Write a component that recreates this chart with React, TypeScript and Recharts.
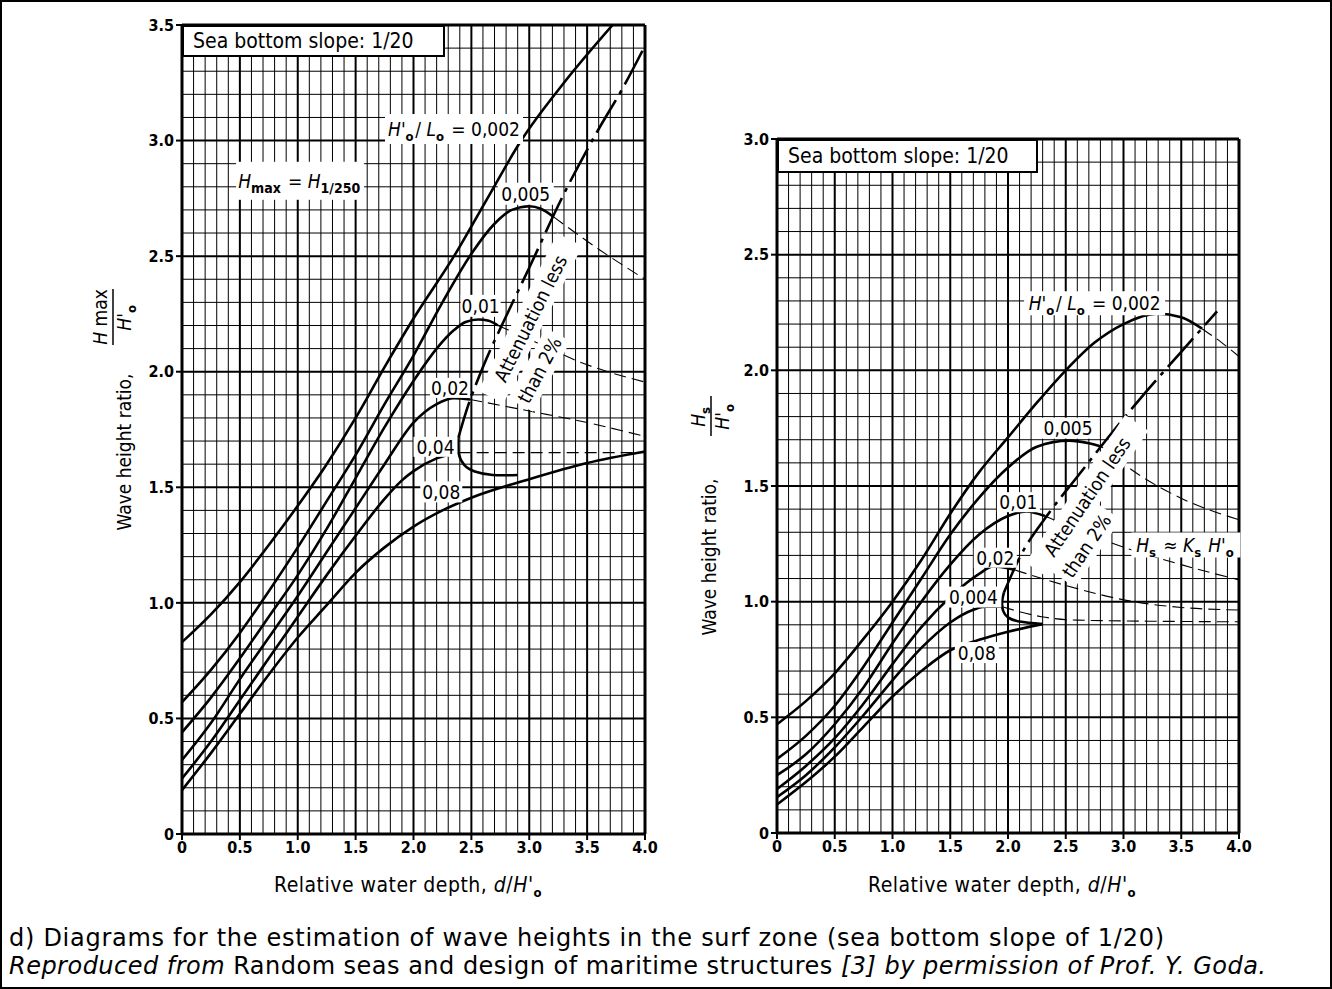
import React from 'react';
import {
  LineChart,
  Line,
  XAxis,
  YAxis,
  ReferenceDot,
  ReferenceLine,
} from 'recharts';

const FONT = '"DejaVu Sans Condensed", "Liberation Sans Narrow", "DejaVu Sans", sans-serif';
const CAPTION_FONT = '"DejaVu Sans", "Noto Sans", sans-serif';

// axis ticks
const X_TICKS = [0, 0.5, 1, 1.5, 2, 2.5, 3, 3.5, 4];
const Y_TICKS_MAX = [0, 0.5, 1, 1.5, 2, 2.5, 3, 3.5];
const Y_TICKS_S = [0, 0.5, 1, 1.5, 2, 2.5, 3];

// left diagram: Hmax / H'o against d / H'o, one list per wave steepness H'o/Lo
const max002 = [[0, 0.83], [0.25, 0.95], [0.5, 1.09], [0.75, 1.25], [1.0, 1.42], [1.25, 1.6], [1.5, 1.8], [1.75, 2.02], [2.0, 2.23], [2.35, 2.5], [2.65, 2.76], [2.93, 3.0], [3.3, 3.25], [3.72, 3.5]];
const max005 = [[0, 0.57], [0.25, 0.71], [0.5, 0.87], [0.75, 1.05], [1.0, 1.24], [1.25, 1.44], [1.5, 1.64], [1.75, 1.86], [2.0, 2.07], [2.25, 2.3], [2.5, 2.51], [2.7, 2.64], [2.85, 2.7], [3.0, 2.716], [3.1, 2.705], [3.21, 2.67]];
const max005Tail = [[3.21, 2.67], [3.6, 2.53], [4.0, 2.4]];
const max01 = [[0, 0.44], [0.25, 0.59], [0.5, 0.76], [0.75, 0.94], [1.0, 1.12], [1.25, 1.32], [1.5, 1.54], [1.75, 1.76], [2.0, 1.96], [2.2, 2.1], [2.35, 2.18], [2.45, 2.215], [2.56, 2.226], [2.65, 2.22], [2.73, 2.2]];
const max01Tail = [[2.73, 2.2], [3.0, 2.14], [3.5, 2.03], [4.0, 1.955]];
const max02 = [[0, 0.32], [0.25, 0.48], [0.5, 0.67], [0.75, 0.85], [1.0, 1.03], [1.25, 1.22], [1.5, 1.41], [1.75, 1.6], [2.0, 1.78], [2.2, 1.86], [2.35, 1.885], [2.49, 1.88]];
const max02Tail = [[2.49, 1.88], [3.0, 1.83], [3.5, 1.78], [4.0, 1.72]];
const max04 = [[0, 0.24], [0.25, 0.4], [0.5, 0.58], [0.75, 0.76], [1.0, 0.94], [1.25, 1.12], [1.5, 1.29], [1.75, 1.45], [1.9, 1.53], [2.0, 1.57], [2.2, 1.625], [2.39, 1.65]];
const max04Tail = [[2.39, 1.65], [4.0, 1.65]];
const max08 = [[0, 0.19], [0.25, 0.35], [0.5, 0.52], [0.75, 0.69], [1.0, 0.85], [1.25, 0.99], [1.5, 1.13], [1.75, 1.24], [2.0, 1.33], [2.25, 1.4], [2.5, 1.455], [3.0, 1.535], [3.5, 1.605], [4.0, 1.655]];
const maxLimit = [[2.386, 1.712], [2.45, 1.82], [2.6, 2.02], [2.8, 2.24], [3.0, 2.45], [3.3, 2.77], [3.6, 3.05], [3.8, 3.22], [4.0, 3.41]];
const maxHook = [[2.386, 1.712], [2.39, 1.647], [2.438, 1.597], [2.53, 1.568], [2.685, 1.553], [2.9, 1.553]];

// right diagram: Hs / H'o against d / H'o
const sig002 = [[0, 0.47], [0.25, 0.57], [0.5, 0.69], [0.75, 0.84], [1.0, 1.0], [1.25, 1.18], [1.5, 1.38], [1.75, 1.56], [2.0, 1.71], [2.25, 1.86], [2.5, 2.0], [2.75, 2.12], [3.0, 2.2], [3.29, 2.245], [3.5, 2.23], [3.68, 2.18]];
const sig002Tail = [[3.68, 2.18], [3.85, 2.12], [4.0, 2.06]];
const sig005 = [[0, 0.32], [0.25, 0.42], [0.5, 0.55], [0.75, 0.72], [1.0, 0.91], [1.25, 1.1], [1.5, 1.29], [1.75, 1.45], [2.0, 1.58], [2.25, 1.67], [2.53, 1.696], [2.7, 1.685], [2.81, 1.67]];
const sig005Tail = [[2.81, 1.67], [3.13, 1.55], [3.53, 1.44], [4.0, 1.354]];
const sig01 = [[0, 0.25], [0.25, 0.34], [0.5, 0.47], [0.75, 0.63], [1.0, 0.82], [1.25, 1.0], [1.5, 1.16], [1.75, 1.29], [2.0, 1.37], [2.16, 1.39], [2.32, 1.37]];
const sig01Tail = [[2.32, 1.37], [2.86, 1.26], [3.5, 1.16], [4.0, 1.094]];
const sig02 = [[0, 0.19], [0.25, 0.29], [0.5, 0.41], [0.75, 0.56], [1.0, 0.73], [1.25, 0.89], [1.5, 1.02], [1.75, 1.12], [1.87, 1.152], [2.0, 1.145], [2.06, 1.137]];
const sig02Tail = [[2.06, 1.137], [2.5, 1.07], [3.09, 1.0], [3.5, 0.975], [4.0, 0.964]];
const sig04 = [[0, 0.155], [0.25, 0.25], [0.5, 0.37], [0.75, 0.51], [1.0, 0.66], [1.25, 0.8], [1.5, 0.91], [1.7, 0.965], [1.8, 0.978], [1.95, 0.978]];
const sig04Tail = [[1.95, 0.978], [2.29, 0.935], [2.6, 0.92], [4.0, 0.913]];
const sig08 = [[0, 0.123], [0.25, 0.22], [0.5, 0.33], [0.75, 0.46], [1.0, 0.59], [1.25, 0.7], [1.5, 0.79], [1.75, 0.835], [2.0, 0.87], [2.3, 0.903]];
const sigLimit = [[1.965, 1.04], [2.1, 1.19], [2.35, 1.38], [2.6, 1.54], [2.9, 1.73], [3.2, 1.91], [3.5, 2.08], [3.81, 2.255]];
const sigHook = [[1.965, 1.04], [1.949, 1.0], [1.958, 0.96], [2.0, 0.932], [2.1, 0.914], [2.3, 0.903]];

const toPts = (a: number[][]) => a.map(([x, y]) => ({ x, y }));
const tenths = (max: number) => Array.from({ length: Math.round(max * 10) + 1 }, (_, i) => i / 10);

const solid = (a: number[][], key: string, type: any = 'monotone') => (
  <Line key={key} data={toPts(a)} dataKey="y" type={type} stroke="#000" strokeWidth={2.6}
    dot={false} activeDot={false} isAnimationActive={false} />
);
const dashed = (a: number[][], key: string) => (
  <Line key={key} data={toPts(a)} dataKey="y" type="monotone" stroke="#000" strokeWidth={1.1}
    strokeDasharray="12 6" dot={false} activeDot={false} isAnimationActive={false} />
);
const dashDot = (a: number[][], key: string) => (
  <Line key={key} data={toPts(a)} dataKey="y" type="monotone" stroke="#000" strokeWidth={2.6}
    strokeDasharray="38 7 4 7" dot={false} activeDot={false} isAnimationActive={false} />
);

const Sub = ({ children, size = 13 }: any) => (
  <>
    <tspan dy={5} fontSize={size} fontWeight={700}>{children}</tspan>
    <tspan dy={-5}>{'\u200a'}</tspan>
  </>
);

// white-backed label on a curve, centred on a data point
const tag = (key: string, x: number, y: number, w: number, h: number, content: React.ReactNode) => (
  <ReferenceDot key={key} x={x} y={y} r={0} ifOverflow="visible"
    shape={(p: any) => (
      <g>
        <rect x={p.cx - w / 2} y={p.cy - h / 2} width={w} height={h} fill="#fff" />
        <text x={p.cx} y={p.cy + 7} textAnchor="middle" fontFamily={FONT} fontSize={19} fill="#000">
          {content}
        </text>
      </g>
    )} />
);

const slanted = (key: string, x: number, y: number, angle: number, w: number, text: string) => (
  <ReferenceDot key={key} x={x} y={y} r={0} ifOverflow="visible"
    shape={(p: any) => (
      <g transform={`translate(${p.cx},${p.cy}) rotate(${angle})`}>
        <rect x={-w / 2} y={-14} width={w} height={28} fill="#fff" />
        <text x={0} y={7} textAnchor="middle" fontFamily={FONT} fontSize={19} fill="#000">{text}</text>
      </g>
    )} />
);

const steepness = (
  <>
    <tspan fontStyle="italic">H'</tspan><Sub>o</Sub>
    <tspan>/ </tspan><tspan fontStyle="italic">L</tspan><Sub>o</Sub>
    <tspan> = 0,002</tspan>
  </>
);

const fmt = (v: number) => (v === 0 ? '0' : v.toFixed(1));

const axisProps = {
  tick: { fill: '#000', fontSize: 16, fontWeight: 700, fontFamily: FONT },
  tickLine: { stroke: '#000', strokeWidth: 2 },
  axisLine: { stroke: '#000', strokeWidth: 3 },
  tickFormatter: fmt,
  allowDataOverflow: true,
};

// 0.1 grid, every fifth line heavier, plus the heavy frame on top and right
const grids = (yMax: number) => [
  ...tenths(4).map((v, i) => (
    <ReferenceLine key={`gx${i}`} x={v} stroke="#000" strokeWidth={i % 5 === 0 ? 2 : 1} />
  )),
  ...tenths(yMax).map((v, i) => (
    <ReferenceLine key={`gy${i}`} y={v} stroke="#000" strokeWidth={i % 5 === 0 ? 2 : 1} />
  )),
  <ReferenceLine key="rtop" y={yMax} stroke="#000" strokeWidth={3} />,
  <ReferenceLine key="rright" x={4} stroke="#000" strokeWidth={3} />,
];

const SlopeBox = ({ left, top, width, height }: any) => (
  <div style={{
    position: 'absolute', left, top, width, height, boxSizing: 'border-box',
    border: '2px solid #000', background: '#fff', fontFamily: FONT, fontSize: 21,
    lineHeight: `${height - 4}px`, paddingLeft: 9, color: '#000', whiteSpace: 'nowrap',
  }}>
    Sea bottom slope: 1/20
  </div>
);

const depthTitle = (x: number) => (
  <text x={x} y={892} fontSize={21} textLength={270} lengthAdjust="spacing">
    Relative water depth, <tspan fontStyle="italic">d</tspan>/<tspan fontStyle="italic">H'</tspan><Sub>o</Sub>
  </text>
);

export default function App() {
  return (
    <div style={{ position: 'absolute', left: 0, top: 0, width: 1332, height: 989, background: '#fff', boxSizing: 'border-box', border: '2px solid #000', overflow: 'hidden' }}>
      <div style={{ position: 'absolute', left: -2, top: -2 }}>
        <LineChart width={660} height={870} margin={{ top: 25, right: 15, bottom: 6, left: 142 }}>
          <XAxis type="number" dataKey="x" domain={[0, 4]} ticks={X_TICKS} height={30} {...axisProps} />
          <YAxis type="number" domain={[0, 3.5]} ticks={Y_TICKS_MAX} width={40} {...axisProps} />
          {grids(3.5)}
          {dashed(max005Tail, 't005')}
          {dashed(max01Tail, 't01')}
          {dashed(max02Tail, 't02')}
          {dashed(max04Tail, 't04')}
          {solid(max002, 'c002')}
          {solid(max005, 'c005')}
          {solid(max01, 'c01')}
          {solid(max02, 'c02')}
          {solid(max04, 'c04')}
          {solid(max08, 'c08')}
          {dashDot(maxLimit, 'lim')}
          {solid(maxHook, 'hook', 'natural')}
          {tag('l002', 2.35, 3.05, 138, 30, steepness)}
          {tag('lmax', 1.02, 2.826, 128, 38, (
            <>
              <tspan fontStyle="italic">H</tspan><Sub size={14}>max</Sub>
              <tspan> = </tspan><tspan fontStyle="italic">H</tspan><Sub size={14}>1/250</Sub>
            </>
          ))}
          {tag('l005', 2.97, 2.77, 56, 22, '0,005')}
          {tag('l01', 2.58, 2.285, 40, 22, '0,01')}
          {tag('l02', 2.315, 1.93, 40, 20, '0,02')}
          {tag('l04', 2.19, 1.675, 44, 20, '0,04')}
          {tag('l08', 2.24, 1.48, 42, 21, '0,08')}
          {slanted('a1', 3.01, 2.231, -63.4, 176, 'Attenuation less')}
          {slanted('a2', 3.087, 2.008, -62, 80, 'than 2%')}
        </LineChart>
      </div>

      <div style={{ position: 'absolute', left: 658, top: -2 }}>
        <LineChart width={594} height={869} margin={{ top: 139, right: 15, bottom: 6, left: 77 }}>
          <XAxis type="number" dataKey="x" domain={[0, 4]} ticks={X_TICKS} height={30} {...axisProps} />
          <YAxis type="number" domain={[0, 3]} ticks={Y_TICKS_S} width={40} {...axisProps} />
          {grids(3)}
          {dashed(sig002Tail, 't002')}
          {dashed(sig005Tail, 't005')}
          {dashed(sig01Tail, 't01')}
          {dashed(sig02Tail, 't02')}
          {dashed(sig04Tail, 't04')}
          {solid(sig002, 'c002')}
          {solid(sig005, 'c005')}
          {solid(sig01, 'c01')}
          {solid(sig02, 'c02')}
          {solid(sig04, 'c04')}
          {solid(sig08, 'c08')}
          {dashDot(sigLimit, 'lim')}
          {solid(sigHook, 'hook', 'natural')}
          {tag('r002', 2.75, 2.29, 141, 24, steepness)}
          {tag('r005', 2.52, 1.75, 57, 21, '0,005')}
          {tag('r01', 2.09, 1.43, 43, 20, '0,01')}
          {tag('r02', 1.89, 1.19, 43, 20, '0,02')}
          {tag('r04', 1.7, 1.02, 56, 21, '0,004')}
          {tag('r08', 1.73, 0.78, 44, 21, '0,08')}
          {tag('rks', 3.54, 1.245, 109, 25, (
            <>
              <tspan fontStyle="italic">H</tspan><Sub>s</Sub>
              <tspan> ≈ </tspan><tspan fontStyle="italic">K</tspan><Sub>s</Sub>
              <tspan> </tspan><tspan fontStyle="italic">H'</tspan><Sub>o</Sub>
            </>
          ))}
          {slanted('a1', 2.684, 1.454, -56, 178, 'Attenuation less')}
          {slanted('a2', 2.678, 1.242, -56, 82, 'than 2%')}
        </LineChart>
      </div>

      <SlopeBox left={180} top={23} width={263} height={32} />
      <SlopeBox left={775} top={137} width={261} height={34} />

      <svg width={1332} height={989} style={{ position: 'absolute', left: -2, top: -2, pointerEvents: 'none' }}
        fontFamily={FONT} fontSize={19} fill="#000">
        <g transform="translate(131,452) rotate(-90)">
          <text textAnchor="middle">Wave height ratio,</text>
        </g>
        <g transform="translate(113,317) rotate(-90)">
          <text y={-6} textAnchor="middle"><tspan fontStyle="italic">H</tspan> max</text>
          <line x1={-28} x2={28} y1={0} y2={0} stroke="#000" strokeWidth={1.5} />
          <text y={18} textAnchor="middle"><tspan fontStyle="italic">H'</tspan><Sub>o</Sub></text>
        </g>
        <g transform="translate(716,557) rotate(-90)">
          <text textAnchor="middle">Wave height ratio,</text>
        </g>
        <g transform="translate(711,416) rotate(-90)">
          <text y={-6} textAnchor="middle"><tspan fontStyle="italic">H</tspan><Sub>s</Sub></text>
          <line x1={-20} x2={20} y1={0} y2={0} stroke="#000" strokeWidth={1.5} />
          <text y={18} textAnchor="middle"><tspan fontStyle="italic">H'</tspan><Sub>o</Sub></text>
        </g>
        {depthTitle(274)}
        {depthTitle(868)}
        <g fontFamily={CAPTION_FONT} fontSize={24}>
          <text x={9} y={946} textLength={1155} lengthAdjust="spacing">
            d) Diagrams for the estimation of wave heights in the surf zone (sea bottom slope of 1/20)
          </text>
          <text x={9} y={974} textLength={1257} lengthAdjust="spacing">
            <tspan fontStyle="italic">Reproduced from</tspan> Random seas and design of maritime structures <tspan fontStyle="italic">[3] by permission of Prof. Y. Goda.</tspan>
          </text>
        </g>
      </svg>
    </div>
  );
}
